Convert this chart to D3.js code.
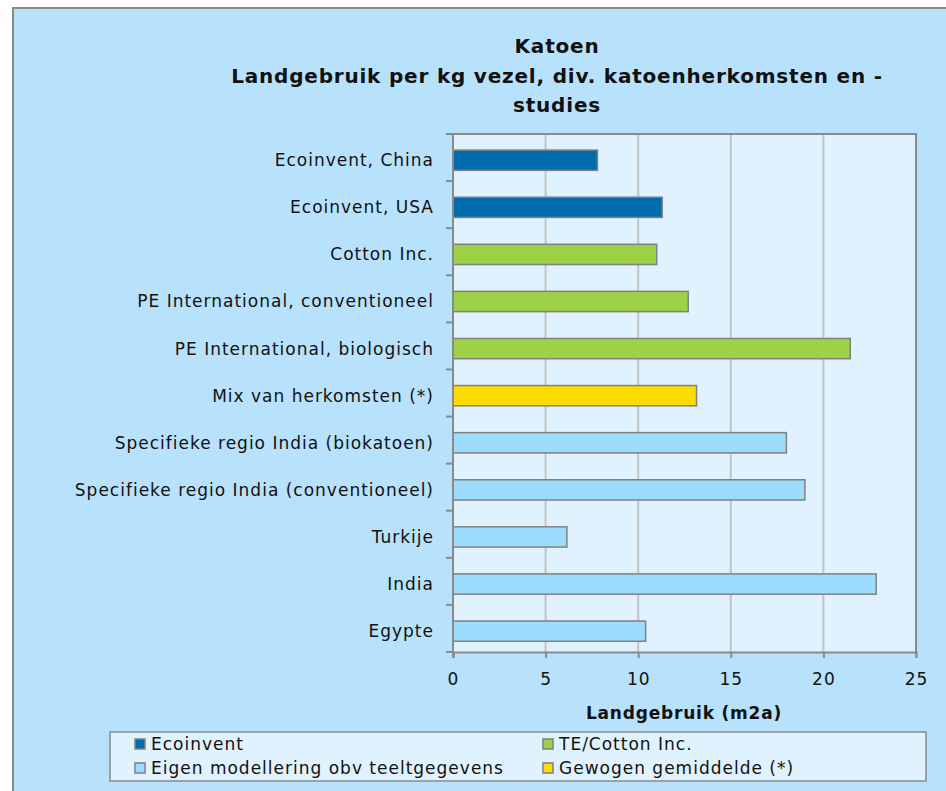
<!DOCTYPE html>
<html>
<head>
<meta charset="utf-8">
<script src="https://cdn.jsdelivr.net/npm/d3@7"></script>
<style>
  body { margin: 0; background: #fff; }
  text { font-family: "DejaVu Sans", sans-serif; fill: #111; }
</style>
</head>
<body>
<svg id="chart" width="946" height="791"></svg>
<script>
// data
const categories = [
  'Ecoinvent, China',
  'Ecoinvent, USA',
  'Cotton Inc.',
  'PE International, conventioneel',
  'PE International, biologisch',
  'Mix van herkomsten (*)',
  'Specifieke regio India (biokatoen)',
  'Specifieke regio India (conventioneel)',
  'Turkije',
  'India',
  'Egypte'
];
const values = [7.8, 11.3, 11.0, 12.7, 21.45, 13.15, 18.0, 19.0, 6.15, 22.85, 10.4];
const groups = ['eco', 'eco', 'te', 'te', 'te', 'mix', 'own', 'own', 'own', 'own', 'own'];
const xTicks = [0, 5, 10, 15, 20, 25];

const legendKeys = ['eco', 'te', 'own', 'mix'];
const legendLabels = ['Ecoinvent', 'TE/Cotton Inc.', 'Eigen modellering obv teeltgegevens', 'Gewogen gemiddelde (*)'];
const titleLines = ['Katoen', 'Landgebruik per kg vezel, div. katoenherkomsten en -', 'studies'];

const color = d3.scaleOrdinal()
  .domain(legendKeys)
  .range(['#006cae', '#9dd147', '#9edcfd', '#ffdc00']);

const svg = d3.select('#chart');

// outer chart area
svg.append('rect')
  .attr('x', 13).attr('y', 8)
  .attr('width', 960).attr('height', 800)
  .attr('fill', '#b8e2fc')
  .attr('stroke', '#8a8a8a').attr('stroke-width', 2);

const plot = { left: 453, right: 916, top: 134, bottom: 652 };

const x = d3.scaleLinear().domain([0, 25]).range([plot.left, plot.right]);
const y = d3.scaleBand().domain(categories)
  .range([plot.top, plot.bottom])
  .paddingInner(0.57).paddingOuter(0.285).align(0.6);

// plot background
svg.append('rect')
  .attr('x', plot.left).attr('y', plot.top)
  .attr('width', plot.right - plot.left).attr('height', plot.bottom - plot.top)
  .attr('fill', '#e0f2fd');

// gridlines
svg.append('g')
  .selectAll('line')
  .data(xTicks.slice(1, -1))
  .join('line')
  .attr('x1', d => x(d)).attr('x2', d => x(d))
  .attr('y1', plot.top).attr('y2', plot.bottom)
  .attr('stroke', '#c4c4c4').attr('stroke-width', 2);

// top + right border
svg.append('path')
  .attr('d', `M${plot.left},${plot.top}H${plot.right}V${plot.bottom}`)
  .attr('fill', 'none').attr('stroke', '#8a8a8a').attr('stroke-width', 2);

// bars
svg.append('g')
  .selectAll('rect')
  .data(categories)
  .join('rect')
  .attr('x', x(0))
  .attr('y', d => y(d))
  .attr('width', (d, i) => x(values[i]) - x(0))
  .attr('height', y.bandwidth())
  .attr('fill', (d, i) => color(groups[i]))
  .attr('stroke', '#808080').attr('stroke-width', 1.5);

// x axis
const xAxis = svg.append('g')
  .attr('transform', `translate(0,${plot.bottom})`)
  .call(d3.axisBottom(x).tickValues(xTicks).tickSize(6).tickPadding(15));
xAxis.select('.domain').attr('stroke', '#8a8a8a').attr('stroke-width', 2);
xAxis.selectAll('.tick line').attr('stroke', '#8a8a8a').attr('stroke-width', 2);
xAxis.selectAll('.tick text')
  .attr('font-size', 17).attr('fill', '#111')
  .style('letter-spacing', '1px')
  .style('font-family', '"DejaVu Sans", sans-serif');

// y axis: labels at band centers, ticks at band boundaries
const step = y.step();
const y0 = plot.top;
svg.append('line')
  .attr('x1', plot.left).attr('x2', plot.left)
  .attr('y1', plot.top).attr('y2', plot.bottom + 6)
  .attr('stroke', '#8a8a8a').attr('stroke-width', 2);
svg.append('g')
  .selectAll('line')
  .data(d3.range(categories.length + 1))
  .join('line')
  .attr('x1', plot.left - 7).attr('x2', plot.left)
  .attr('y1', i => y0 + i * step).attr('y2', i => y0 + i * step)
  .attr('stroke', '#8a8a8a').attr('stroke-width', 2);

svg.append('g')
  .selectAll('text')
  .data(categories)
  .join('text')
  .attr('x', plot.left - 19)
  .attr('y', d => y(d) + y.bandwidth() / 2)
  .attr('dy', '0.35em')
  .attr('text-anchor', 'end')
  .attr('font-size', 17)
  .style('letter-spacing', '1px')
  .text(d => d);

// title
svg.append('g')
  .selectAll('text')
  .data(titleLines)
  .join('text')
  .attr('x', 557)
  .attr('y', (d, i) => 53 + i * 29.5)
  .attr('text-anchor', 'middle')
  .attr('font-size', 20)
  .attr('font-weight', 'bold')
  .style('letter-spacing', '0.8px')
  .text(d => d);

// x axis title
svg.append('text')
  .attr('x', 684).attr('y', 719)
  .attr('text-anchor', 'middle')
  .attr('font-size', 17).attr('font-weight', 'bold')
  .style('letter-spacing', '0.8px')
  .text('Landgebruik (m2a)');

// legend
const legend = svg.append('g');
legend.append('rect')
  .attr('x', 110).attr('y', 732)
  .attr('width', 816).attr('height', 49)
  .attr('fill', '#e0f2fd')
  .attr('stroke', '#8a8a8a').attr('stroke-width', 1.5);

const legendItems = legend.selectAll('g.item')
  .data(legendKeys)
  .join('g')
  .attr('class', 'item')
  .attr('transform', (d, i) => `translate(${i % 2 === 0 ? 135 : 543},${i < 2 ? 739 : 763})`);

legendItems.append('rect')
  .attr('width', 10).attr('height', 10)
  .attr('fill', d => color(d))
  .attr('stroke', '#808080').attr('stroke-width', 1.5);

legendItems.append('text')
  .attr('x', 16).attr('y', 5)
  .attr('dy', '0.35em')
  .attr('font-size', 17)
  .style('letter-spacing', '1px')
  .text((d, i) => legendLabels[i]);
</script>
</body>
</html>
